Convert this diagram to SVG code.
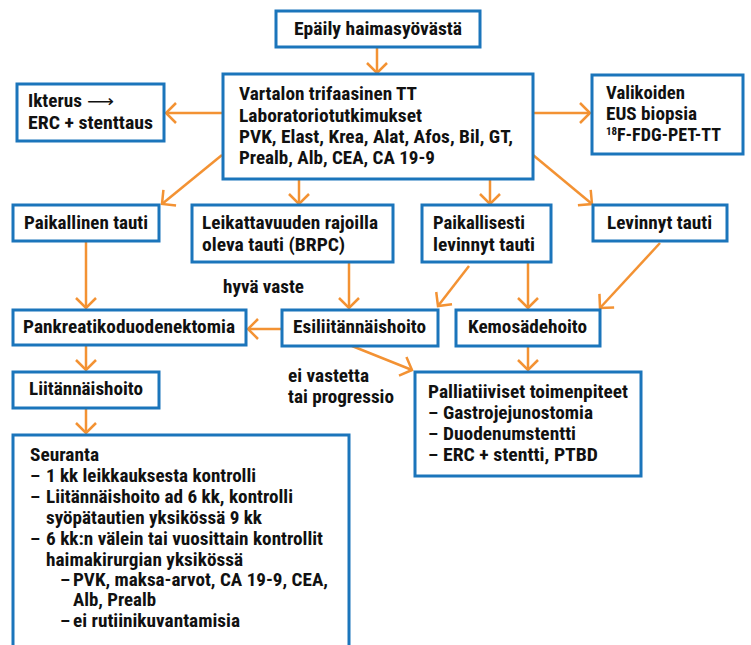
<svg xmlns="http://www.w3.org/2000/svg" width="751" height="645" viewBox="0 0 751 645">
<defs>
<style>
.box{fill:#ffffff;stroke:#1b75bb;stroke-width:3}
.t{font-family:"Liberation Sans Narrow","Roboto Condensed","Liberation Sans",Arial,sans-serif;font-weight:bold;font-size:18.5px;fill:#111111}
.c{fill:none;stroke:#f39233;stroke-width:2.5;marker-end:url(#ah)}
.arw{font-family:"DejaVu Sans",sans-serif;font-size:17px;fill:#111111}
</style>
<marker id="ah" markerUnits="userSpaceOnUse" markerWidth="24" markerHeight="24" refX="11" refY="11" orient="auto" overflow="visible">
<path d="M1,1 L11,11 L1,21" fill="none" stroke="#f39233" stroke-width="2.5"/>
</marker>
</defs>
<rect width="751" height="645" fill="#ffffff"/>

<g id="connectors">
<line class="c" x1="377" y1="47" x2="377" y2="73"/>
<line class="c" x1="223" y1="113" x2="166" y2="113"/>
<line class="c" x1="533" y1="113" x2="590" y2="113"/>
<line class="c" x1="222" y1="155" x2="162" y2="204"/>
<line class="c" x1="299" y1="179" x2="299" y2="204"/>
<line class="c" x1="490" y1="179" x2="490" y2="204"/>
<line class="c" x1="533" y1="155" x2="592" y2="204"/>
<line class="c" x1="86" y1="241" x2="86" y2="308"/>
<line class="c" x1="349" y1="262" x2="349" y2="308"/>
<line class="c" x1="469" y1="266" x2="438" y2="306"/>
<line class="c" x1="528" y1="262" x2="528" y2="308"/>
<line class="c" x1="660" y1="243" x2="600" y2="308"/>
<line class="c" x1="282" y1="329" x2="248" y2="329"/>
<line class="c" x1="86" y1="345" x2="86" y2="370"/>
<line class="c" x1="528" y1="346" x2="528" y2="370"/>
<line class="c" x1="352" y1="346" x2="412" y2="370"/>
<line class="c" x1="86" y1="408" x2="86" y2="433"/>
</g>

<g id="n-epaily">
<rect class="box" x="276" y="11" width="204" height="36"/>
<text class="t" x="294" y="35" textLength="168" lengthAdjust="spacingAndGlyphs">Epäily haimasyövästä</text>
</g>

<g id="n-vartalon">
<rect class="box" x="223" y="74" width="310" height="105"/>
<text class="t" x="239" y="100" textLength="178" lengthAdjust="spacingAndGlyphs">Vartalon trifaasinen TT</text>
<text class="t" x="239" y="122" textLength="183" lengthAdjust="spacingAndGlyphs">Laboratoriotutkimukset</text>
<text class="t" x="239" y="143" textLength="274" lengthAdjust="spacingAndGlyphs">PVK, Elast, Krea, Alat, Afos, Bil, GT,</text>
<text class="t" x="239" y="164" textLength="196" lengthAdjust="spacingAndGlyphs">Prealb, Alb, CEA, CA 19-9</text>
</g>

<g id="n-ikterus">
<rect class="box" x="17" y="84" width="147" height="57"/>
<text class="t" x="28" y="107" textLength="54" lengthAdjust="spacingAndGlyphs">Ikterus</text>
<text class="arw" x="87" y="107" textLength="27" lengthAdjust="spacingAndGlyphs">⟶</text>
<text class="t" x="28" y="129" textLength="125" lengthAdjust="spacingAndGlyphs">ERC + stenttaus</text>
</g>

<g id="n-valikoiden">
<rect class="box" x="592" y="75" width="151" height="79"/>
<text class="t" x="606" y="99" textLength="79" lengthAdjust="spacingAndGlyphs">Valikoiden</text>
<text class="t" x="606" y="120" textLength="91" lengthAdjust="spacingAndGlyphs">EUS biopsia</text>
<text class="t" x="606" y="141"><tspan font-size="11px" dy="-6">18</tspan><tspan dy="6" x="617" textLength="104" lengthAdjust="spacingAndGlyphs">F-FDG-PET-TT</tspan></text>
</g>

<g id="n-paikallinen">
<rect class="box" x="13" y="205" width="146" height="36"/>
<text class="t" x="24" y="229" textLength="124" lengthAdjust="spacingAndGlyphs">Paikallinen tauti</text>
</g>

<g id="n-leikattavuuden">
<rect class="box" x="192" y="205" width="201" height="57"/>
<text class="t" x="202" y="229" textLength="176" lengthAdjust="spacingAndGlyphs">Leikattavuuden rajoilla</text>
<text class="t" x="202" y="251" textLength="143" lengthAdjust="spacingAndGlyphs">oleva tauti (BRPC)</text>
</g>

<g id="n-paikallisesti">
<rect class="box" x="422" y="205" width="129" height="57"/>
<text class="t" x="433" y="229" textLength="92" lengthAdjust="spacingAndGlyphs">Paikallisesti</text>
<text class="t" x="433" y="251" textLength="102" lengthAdjust="spacingAndGlyphs">levinnyt tauti</text>
</g>

<g id="n-levinnyt">
<rect class="box" x="593" y="205" width="134" height="36"/>
<text class="t" x="607" y="229" textLength="105" lengthAdjust="spacingAndGlyphs">Levinnyt tauti</text>
</g>

<g id="n-hyva-vaste">
<text class="t" x="223" y="293" textLength="81" lengthAdjust="spacingAndGlyphs">hyvä vaste</text>
</g>

<g id="n-pankreatiko">
<rect class="box" x="13" y="310" width="233" height="35"/>
<text class="t" x="23" y="333" textLength="212" lengthAdjust="spacingAndGlyphs">Pankreatikoduodenektomia</text>
</g>

<g id="n-esiliitannaishoito">
<rect class="box" x="282" y="310" width="156" height="36"/>
<text class="t" x="293" y="333" textLength="133" lengthAdjust="spacingAndGlyphs">Esiliitännäishoito</text>
</g>

<g id="n-kemosadehoito">
<rect class="box" x="456" y="310" width="144" height="36"/>
<text class="t" x="468" y="333" textLength="119" lengthAdjust="spacingAndGlyphs">Kemosädehoito</text>
</g>

<g id="n-ei-vastetta">
<text class="t" x="288" y="382" textLength="81" lengthAdjust="spacingAndGlyphs">ei vastetta</text>
<text class="t" x="288" y="403" textLength="106" lengthAdjust="spacingAndGlyphs">tai progressio</text>
</g>

<g id="n-palliatiiviset">
<rect class="box" x="415" y="372" width="226" height="104"/>
<text class="t" x="428" y="398" textLength="200" lengthAdjust="spacingAndGlyphs">Palliatiiviset toimenpiteet</text>
<text class="t" x="428" y="419">–</text>
<text class="t" x="443" y="419" textLength="150" lengthAdjust="spacingAndGlyphs">Gastrojejunostomia</text>
<text class="t" x="428" y="440">–</text>
<text class="t" x="443" y="440" textLength="133" lengthAdjust="spacingAndGlyphs">Duodenumstentti</text>
<text class="t" x="428" y="461">–</text>
<text class="t" x="443" y="461" textLength="155" lengthAdjust="spacingAndGlyphs">ERC + stentti, PTBD</text>
</g>

<g id="n-liitannaishoito">
<rect class="box" x="13" y="372" width="146" height="36"/>
<text class="t" x="29" y="395" textLength="114" lengthAdjust="spacingAndGlyphs">Liitännäishoito</text>
</g>

<g id="n-seuranta">
<rect class="box" x="13" y="435" width="336" height="230"/>
<text class="t" x="30" y="461" textLength="69" lengthAdjust="spacingAndGlyphs">Seuranta</text>
<text class="t" x="30" y="482">–</text>
<text class="t" x="46" y="482" textLength="210" lengthAdjust="spacingAndGlyphs">1 kk leikkauksesta kontrolli</text>
<text class="t" x="30" y="503">–</text>
<text class="t" x="46" y="503" textLength="247" lengthAdjust="spacingAndGlyphs">Liitännäishoito ad 6 kk, kontrolli</text>
<text class="t" x="46" y="524" textLength="216" lengthAdjust="spacingAndGlyphs">syöpätautien yksikössä 9 kk</text>
<text class="t" x="30" y="545">–</text>
<text class="t" x="46" y="545" textLength="277" lengthAdjust="spacingAndGlyphs">6 kk:n välein tai vuosittain kontrollit</text>
<text class="t" x="46" y="566" textLength="197" lengthAdjust="spacingAndGlyphs">haimakirurgian yksikössä</text>
<text class="t" x="60" y="586">–</text>
<text class="t" x="73" y="586" textLength="255" lengthAdjust="spacingAndGlyphs">PVK, maksa-arvot, CA 19-9, CEA,</text>
<text class="t" x="73" y="606" textLength="83" lengthAdjust="spacingAndGlyphs">Alb, Prealb</text>
<text class="t" x="60" y="627">–</text>
<text class="t" x="73" y="627" textLength="167" lengthAdjust="spacingAndGlyphs">ei rutiinikuvantamisia</text>
</g>
</svg>
